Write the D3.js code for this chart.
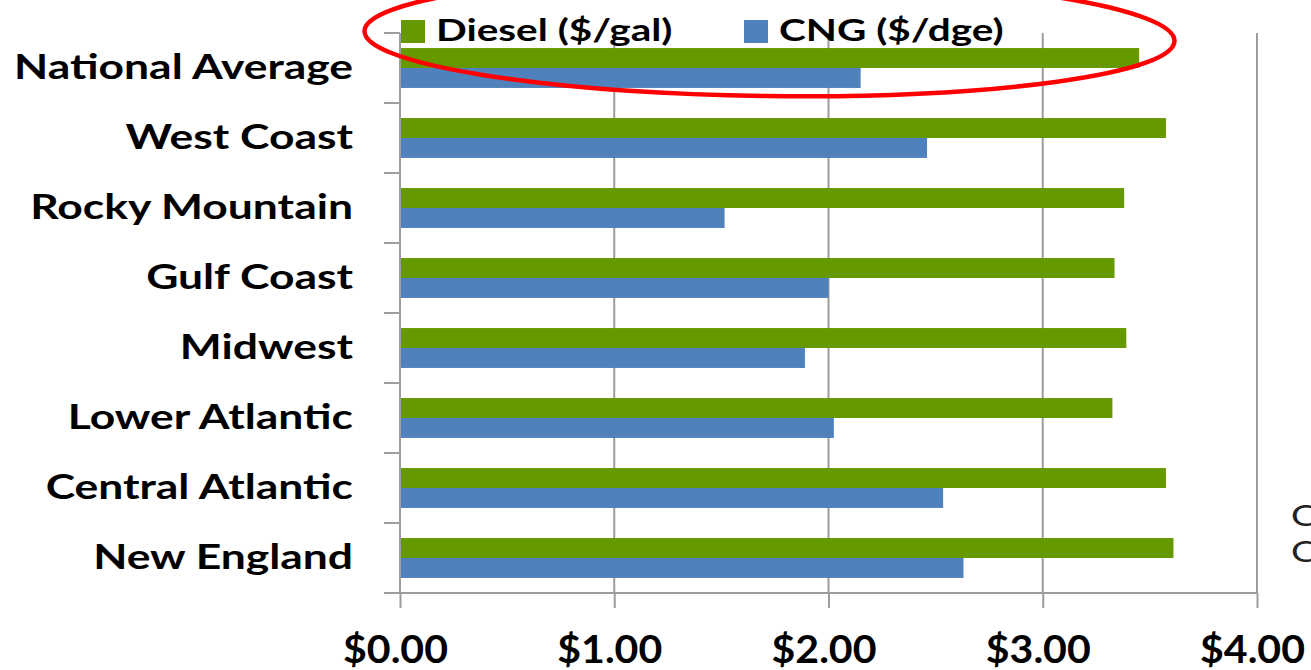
<!DOCTYPE html>
<html>
<head>
<meta charset="utf-8">
<script src="https://cdn.jsdelivr.net/npm/d3@7"></script>
<style>
  body { margin: 0; background: #fff; }
  svg { display: block; }
</style>
</head>
<body>
<div id="chart"></div>
<script>
// region list, top to bottom
const regions = ["National Average", "West Coast", "Rocky Mountain", "Gulf Coast",
  "Midwest", "Lower Atlantic", "Central Atlantic", "New England"];
const diesel = [3.45, 3.575, 3.38, 3.335, 3.39, 3.325, 3.575, 3.61];
const cng = [2.15, 2.46, 1.515, 2.0, 1.89, 2.025, 2.535, 2.63];
const seriesNames = ["Diesel ($/gal)", "CNG ($/dge)"];
const xTicks = [0, 1, 2, 3, 4];

const width = 1311, height = 670;
const margin = { top: 33, right: 54, bottom: 77, left: 400 };
const colors = ["#669900", "#4f81bd"];
const font = "Lato, 'Open Sans', sans-serif";

const svg = d3.select("#chart").append("svg")
  .attr("width", width)
  .attr("height", height);

// the source picture is stretched sideways, so measure a sample and get the factor
function stretch(sample, size, target) {
  const probe = svg.append("text")
    .style("font-family", font).style("font-weight", 700).style("font-size", size + "px")
    .text(sample);
  const w = probe.node().getComputedTextLength();
  probe.remove();
  return target / w;
}
const SX = stretch("National Average", 34, 339);
const SXT = stretch("$0.00", 39, 105);

const x = d3.scaleLinear()
  .domain([0, 4])
  .range([margin.left, width - margin.right]);

const y = d3.scaleBand()
  .domain(regions)
  .range([margin.top, height - margin.bottom])
  .paddingInner(0.43)
  .paddingOuter(0.215);

const sub = d3.scaleBand()
  .domain([0, 1])
  .range([0, y.bandwidth()]);

// gridlines
svg.append("g")
  .selectAll("line")
  .data(xTicks.slice(1))
  .join("line")
  .attr("x1", d => x(d)).attr("x2", d => x(d))
  .attr("y1", margin.top).attr("y2", height - margin.bottom)
  .attr("stroke", "#9d9d9d")
  .attr("stroke-width", 2);

// bars
const rows = regions.map((r, i) => ({ region: r, values: [diesel[i], cng[i]] }));
svg.append("g")
  .selectAll("g")
  .data(rows)
  .join("g")
  .attr("transform", d => `translate(0,${y(d.region)})`)
  .selectAll("rect")
  .data(d => d.values)
  .join("rect")
  .attr("x", x(0))
  .attr("y", (d, i) => sub(i))
  .attr("width", d => x(d) - x(0))
  .attr("height", sub.bandwidth())
  .attr("fill", (d, i) => colors[i]);

// bottom axis
const xAxis = svg.append("g")
  .attr("transform", `translate(0,${height - margin.bottom})`)
  .call(d3.axisBottom(x).tickValues(xTicks).tickFormat(d3.format("$.2f")).tickSize(15).tickSizeOuter(0));
xAxis.select(".domain").remove();
xAxis.append("line")
  .attr("x1", x(0) - 16).attr("x2", x(4))
  .attr("stroke", "#9d9d9d").attr("stroke-width", 2);
xAxis.selectAll(".tick line").attr("stroke", "#9d9d9d").attr("stroke-width", 2);
xAxis.selectAll(".tick text")
  .attr("x", -5 / SXT)
  .attr("y", 70)
  .attr("dy", 0)
  .attr("transform", `scale(${SXT},1)`)
  .attr("fill", "#000")
  .style("font-family", font).style("font-weight", 700).style("font-size", "39px");

// left axis, ticks sit between the categories
const yAxis = svg.append("g")
  .attr("transform", `translate(${margin.left},0)`)
  .call(d3.axisLeft(y).tickSize(0).tickSizeOuter(0));
yAxis.select(".domain").remove();
yAxis.append("line")
  .attr("y1", margin.top).attr("y2", height - margin.bottom)
  .attr("stroke", "#9d9d9d").attr("stroke-width", 2);
yAxis.selectAll(".bound")
  .data(d3.range(regions.length + 1))
  .join("line")
  .attr("class", "bound")
  .attr("x1", -16).attr("x2", 0)
  .attr("y1", i => margin.top + i * y.step())
  .attr("y2", i => margin.top + i * y.step())
  .attr("stroke", "#9d9d9d").attr("stroke-width", 2);
yAxis.selectAll(".tick text")
  .attr("x", -47 / SX)
  .attr("dy", "0.33em")
  .attr("transform", `scale(${SX},1)`)
  .attr("fill", "#000")
  .style("font-family", font).style("font-weight", 700).style("font-size", "34px");

// legend
const legendX = [401, 744];
const legend = svg.append("g")
  .selectAll("g")
  .data(seriesNames)
  .join("g")
  .attr("transform", (d, i) => `translate(${legendX[i]},20)`);
legend.append("rect")
  .attr("width", 24).attr("height", 23)
  .attr("fill", (d, i) => colors[i]);
legend.append("text")
  .attr("x", 35 / SX)
  .attr("y", 21)
  .attr("transform", `scale(${SX},1)`)
  .style("font-family", font).style("font-weight", 700).style("font-size", "31px")
  .text(d => d);

// clipped text at the right edge of the slide
svg.append("g")
  .selectAll("text")
  .data([526, 562])
  .join("text")
  .attr("x", 1291 / SX)
  .attr("y", d => d)
  .attr("transform", `scale(${SX},1)`)
  .attr("fill", "#222")
  .style("font-family", font).style("font-size", "29px")
  .text("C");

// red highlight round the legend
svg.append("ellipse")
  .attr("cx", 769.5).attr("cy", 36)
  .attr("rx", 405).attr("ry", 60)
  .attr("transform", "rotate(0.7,769.5,36)")
  .attr("fill", "none")
  .attr("stroke", "#ff0000")
  .attr("stroke-width", 4.5);
</script>
</body>
</html>
